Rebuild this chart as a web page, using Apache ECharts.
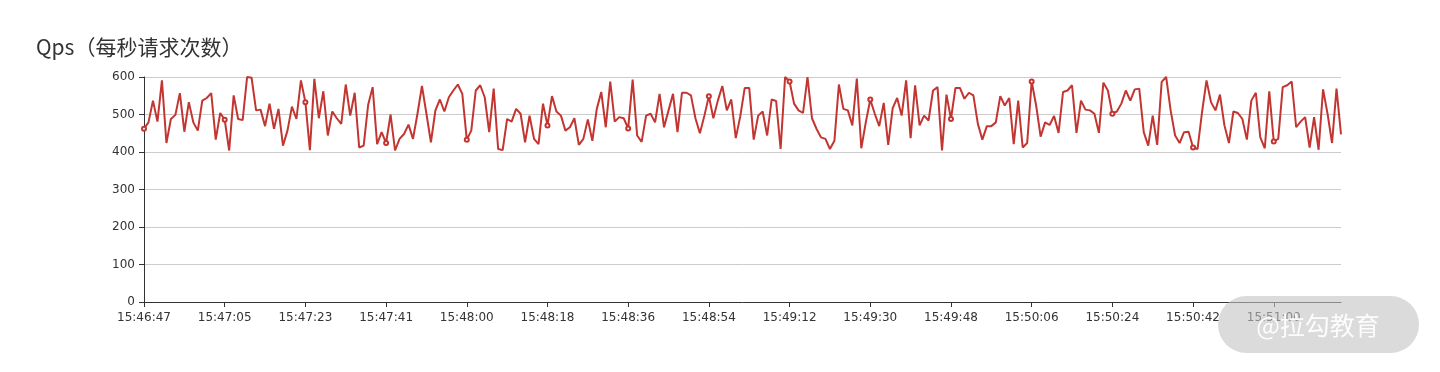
<!DOCTYPE html>
<html>
<head>
<meta charset="utf-8">
<script src="https://cdn.jsdelivr.net/npm/echarts@6/dist/echarts.min.js"></script>
<style>
html,body{margin:0;padding:0;background:#fff;}
#chart{width:1440px;height:372px;}
</style>
</head>
<body>
<div id="chart"></div>
<script>
const titleText = 'Qps（每秒请求次数）';
const startTime = '15:46:47';
const skippedSecond = '15:47:50';
const qpsValues = [
462,479,537,481,591,424,488,499,557,454,533,479,457,537,544,557,433,504,486,404,
551,488,485,600,598,511,513,469,529,462,515,417,457,521,488,591,533,405,595,490,
562,444,508,490,475,580,497,558,412,417,526,573,421,453,424,500,404,435,448,473,
435,502,576,502,426,511,540,508,546,564,580,555,433,457,564,578,546,453,569,408,
405,488,481,515,502,426,497,435,421,529,471,549,508,497,457,466,490,419,435,487,
430,515,560,466,588,481,493,490,463,593,444,427,497,502,479,555,466,511,555,453,
558,558,551,490,450,497,549,490,537,576,511,540,437,495,571,571,433,497,508,444,
540,536,408,600,588,529,511,504,600,490,462,439,435,408,430,580,515,511,471,596,
410,479,540,502,469,531,419,517,544,497,591,437,578,471,497,484,564,573,404,553,
488,571,571,542,558,551,475,433,469,469,479,549,524,544,421,537,412,424,588,524,
441,479,472,496,451,560,564,578,451,537,513,511,502,451,585,564,502,508,529,564,
537,567,569,453,417,497,419,587,600,511,444,424,453,454,412,408,506,591,533,511,
553,471,424,508,504,488,433,537,558,439,410,562,428,435,573,578,588,466,481,493,
412,493,406,567,502,424,569,447
];
const yTicks = [0,100,200,300,400,500,600];
const watermarkText = '@拉勾教育';

function toSec(t){const p=t.split(':').map(Number);return p[0]*3600+p[1]*60+p[2];}
function fmt(s){const h=Math.floor(s/3600),m=Math.floor(s%3600/60),x=s%60;return [h,m,x].map(v=>String(v).padStart(2,'0')).join(':');}
const categories = [];
(function(){
  let s = toSec(startTime);
  const skip = toSec(skippedSecond);
  while (categories.length < qpsValues.length) {
    if (s !== skip) categories.push(fmt(s));
    s++;
  }
})();

const chart = echarts.init(document.getElementById('chart'), null, {renderer:'canvas'});
const titleFont = '"Noto Sans CJK SC",sans-serif';
const axisFont = '"DejaVu Sans",sans-serif';
chart.setOption({
  animation:false,
  backgroundColor:'#fff',
  title:{
    text:titleText, left:31, top:32,
    textStyle:{fontSize:21, fontWeight:'normal', color:'#333', fontFamily:titleFont}
  },
  grid:{left:144, right:99, top:77, bottom:70, containLabel:false},
  xAxis:{
    type:'category', data:categories, boundaryGap:false,
    axisLine:{lineStyle:{color:'#333'}},
    axisTick:{show:true, interval:17, lineStyle:{color:'#333'}},
    axisLabel:{interval:17, color:'#333', fontSize:12, fontFamily:axisFont, margin:10},
    splitLine:{show:false}
  },
  yAxis:{
    type:'value', min:yTicks[0], max:yTicks[yTicks.length-1], interval:100,
    axisLine:{show:true, lineStyle:{color:'#333'}},
    axisTick:{show:true, lineStyle:{color:'#333'}},
    axisLabel:{color:'#333', fontSize:12, fontFamily:axisFont, margin:9},
    splitLine:{show:true, lineStyle:{color:'#ccc'}}
  },
  series:[{
    type:'line', data:qpsValues, color:'#c23531',
    symbol:'emptyCircle', symbolSize:4, showSymbol:true, showAllSymbol:'auto',
    lineStyle:{width:2, color:'#c23531'},
    itemStyle:{color:'#c23531', borderColor:'#c23531', borderWidth:1}
  }],
  graphic:[
    {type:'rect', z:100, shape:{x:1218,y:296,width:201,height:57,r:28.5}, style:{fill:'rgba(195,195,195,0.6)'}},
    {type:'text', z:101, x:1318, y:325, style:{text:watermarkText, fill:'rgba(255,255,255,0.92)', font:'25px "Noto Sans CJK SC",sans-serif', align:'center', verticalAlign:'middle'}}
  ]
});
</script>
</body>
</html>
